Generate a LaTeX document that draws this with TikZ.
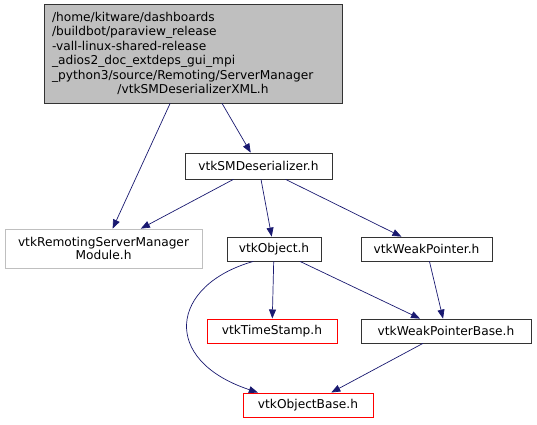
\documentclass[tikz,border=0pt]{standalone}
\usepackage{fontspec}
\setmainfont{DejaVu Sans}
\usepackage{xcolor}
\usepackage{tikz}
\usetikzlibrary{arrows.meta, calc}

\definecolor{edgeblue}{HTML}{191970}
\definecolor{topgray}{HTML}{BFBFBF}
\definecolor{extred}{HTML}{FF0000}

\begin{document}
\begin{tikzpicture}[
    x=1pt, y=-1pt,
    every node/.style={font=\fontsize{12.2}{14.5}\selectfont},
    file/.style={rectangle, draw=black!80, line width=0.8pt, fill=white,
                 align=center, inner sep=2pt, minimum height=24pt},
    extfile/.style={file, color=extred, draw=extred, fill=white, text=black, line width=1pt},
    modfile/.style={file, draw=topgray},
    edge/.style={-{Triangle[length=9pt, width=7pt]}, line width=0.7pt, draw=edgeblue}
]
\useasboundingbox (0,0) rectangle (537,424);

% === Root header ===
\node[file, fill=topgray, text width=282pt, inner xsep=8pt, align=left,
      minimum height=99pt] (root) at (193, 53.5)
    {/home/kitware/dashboards\\
     /buildbot/paraview\_release\\
     -vall-linux-shared-release\\
     \_adios2\_doc\_extdeps\_gui\_mpi\\
     \_python3/source/Remoting/ServerManager\\
     \makebox[\hsize]{/vtkSMDeserializerXML.h}};

% === Direct includes ===
\node[file, minimum width=147pt, minimum height=26pt] (smdes) at (258.5, 166) {vtkSMDeserializer.h};
\node[modfile, minimum width=197pt, minimum height=39pt] (module) at (103.5, 248.5)
    {vtkRemotingServerManager\\[-2pt]Module.h};

% === Second level ===
\node[file, minimum width=94pt] (object) at (274, 249) {vtkObject.h};
\node[file, minimum width=131pt] (weak) at (426.5, 249) {vtkWeakPointer.h};

\node[extfile, minimum width=130pt] (stamp) at (272, 331) {vtkTimeStamp.h};
\node[file, minimum width=170pt] (wpbase) at (446, 331) {vtkWeakPointerBase.h};

\node[extfile, minimum width=130pt] (objbase) at (308, 405) {vtkObjectBase.h};

% edges
\draw[edge] (root) -- (module);
\draw[edge] (root) -- (smdes);
\draw[edge] (smdes) -- (module);
\draw[edge] (smdes) -- (object);
\draw[edge] (smdes) -- (weak);
\draw[edge] (object) -- (stamp);
\draw[edge] (object) -- (wpbase);
\draw[edge] (object.211) .. controls (170, 285) and (160, 360) .. (objbase.166);
\draw[edge] (weak) -- (wpbase);
\draw[edge] (wpbase) -- (objbase);

\end{tikzpicture}
\end{document}
